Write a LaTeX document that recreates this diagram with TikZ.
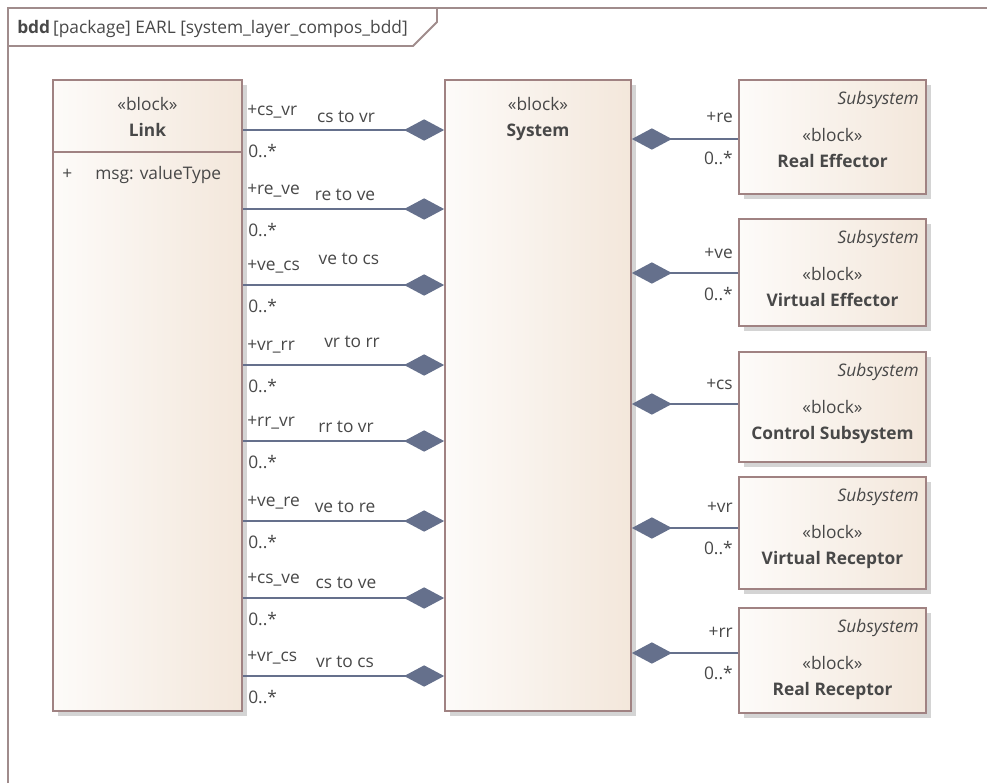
\documentclass[tikz,border=0pt]{standalone}
\usepackage{fontspec}
\setmainfont{Open Sans}
\usetikzlibrary{arrows.meta,shadows}
\definecolor{frameC}{RGB}{160,140,140}
\definecolor{blkL}{RGB}{253,251,249}
\definecolor{blkR}{RGB}{243,231,219}
\definecolor{blkD}{RGB}{160,130,130}
\definecolor{lineC}{RGB}{101,112,140}
\definecolor{txtC}{RGB}{72,72,72}
\tikzset{
  blockbox/.style={draw=blkD, line width=1.3pt, left color=blkL, right color=blkR,
    inner sep=0pt, drop shadow={shadow xshift=3.5pt, shadow yshift=-3.5pt, fill=black!17, opacity=1}},
  txt/.style={text=txtC, inner sep=0pt, yshift=-2.25pt, font=\fontsize{13}{15}\selectfont},
  btxt/.style={txt, font=\fontsize{13}{15}\selectfont\bfseries},
  itxt/.style={txt, font=\fontsize{13}{15}\selectfont\itshape},
  conn/.style={draw=lineC, line width=1.5pt, {Diamond[length=30pt,width=16pt,fill=lineC]}-},
}
\begin{document}
\begin{tikzpicture}[x=0.75pt,y=-0.75pt]
\useasboundingbox (0,0) rectangle (987,783);
% frame
\draw[frameC, line width=1.4pt] (8,783) -- (8,8) -- (987,8);
\draw[frameC, line width=1.4pt] (8,46) -- (413,46) -- (437,22) -- (437,8);
\node[txt, anchor=mid west] (hdr) at (17,27) {\textbf{bdd}\,[package] EARL [system\_layer\_compos\_bdd]};

% blocks
\node[blockbox, minimum width=189*0.75pt, minimum height=631*0.75pt] (link) at (147.5,395.5) {};
\node[blockbox, minimum width=186*0.75pt, minimum height=631*0.75pt] (sys) at (538,395.5) {};
\node[blockbox, minimum width=187*0.75pt, minimum height=114*0.75pt] (re) at (832.5,137) {};
\node[blockbox, minimum width=187*0.75pt, minimum height=107*0.75pt] (ve) at (832.5,272.5) {};
\node[blockbox, minimum width=187*0.75pt, minimum height=110*0.75pt] (cs) at (832.5,407) {};
\node[blockbox, minimum width=187*0.75pt, minimum height=112*0.75pt] (vr) at (832.5,533) {};
\node[blockbox, minimum width=187*0.75pt, minimum height=105*0.75pt] (rr) at (832.5,660.5) {};

% Link contents
\draw[blkD, line width=1.3pt] (link.west |- 0,152) -- (link.east |- 0,152);
\node[txt, anchor=mid] (linkst) at (147.5,104) {«block»};
\node[btxt, anchor=mid] (linkn) at (147.5,130) {Link};
\node[txt, anchor=mid west] (plus) at (62,173) {+};
\node[txt, anchor=mid west] (attr) at (95,173) {msg: valueType};

% System contents
\node[txt, anchor=mid] (sysst) at (538,104) {«block»};
\node[btxt, anchor=mid] (sysn) at (538,130) {System};

% Subsystems
\foreach \n/\nm/\ty in {re/Real Effector/80, ve/Virtual Effector/219, cs/Control Subsystem/352, vr/Virtual Receptor/477, rr/Real Receptor/608}{
  \node[itxt, anchor=mid east] (\n-k) at (919,\ty+18) {Subsystem};
  \node[txt, anchor=mid] (\n-st) at (832.5,\ty+55) {«block»};
  \node[btxt, anchor=mid] (\n-nm) at (832.5,\ty+81) {\nm};
}

% right connectors
\draw[conn] (sys.east |- 0,139) -- (re.west |- 0,139);
\draw[conn] (sys.east |- 0,273) -- (ve.west |- 0,273);
\draw[conn] (sys.east |- 0,404) -- (cs.west |- 0,404);
\draw[conn] (sys.east |- 0,528) -- (vr.west |- 0,528);
\draw[conn] (sys.east |- 0,653) -- (rr.west |- 0,653);
\node[txt, anchor=mid east] (rre) at (733,116) {+re};
\node[txt, anchor=mid east] (mre) at (733,158) {0..*};
\node[txt, anchor=mid east] (rve) at (733,252) {+ve};
\node[txt, anchor=mid east] (mve) at (733,294) {0..*};
\node[txt, anchor=mid east] (rcs) at (733,383) {+cs};
\node[txt, anchor=mid east] (rvr) at (733,506) {+vr};
\node[txt, anchor=mid east] (mvr) at (733,548) {0..*};
\node[txt, anchor=mid east] (rrr) at (733,631) {+rr};
\node[txt, anchor=mid east] (mrr) at (733,673) {0..*};

% left connectors
\foreach \k/\y/\role in {a/130/cs\_vr, b/209/re\_ve, c/285/ve\_cs, d/365/vr\_rr, e/441/rr\_vr, f/521/ve\_re, g/598/cs\_ve, h/676/vr\_cs}{
  \draw[conn] (sys.west |- 0,\y) -- (link.east |- 0,\y);
  \node[txt, anchor=mid west] (role-\k) at (247,\y-21) {+\role};
  \node[txt, anchor=mid west] (mult-\k) at (248,\y+21) {0..*};
}
\node[txt, anchor=mid] (l-a) at (346,116) {cs to vr};
\node[txt, anchor=mid] (l-b) at (345,194) {re to ve};
\node[txt, anchor=mid] (l-c) at (349,258) {ve to cs};
\node[txt, anchor=mid] (l-d) at (352,341) {vr to rr};
\node[txt, anchor=mid] (l-e) at (346,426) {rr to vr};
\node[txt, anchor=mid] (l-f) at (345,506) {ve to re};
\node[txt, anchor=mid] (l-g) at (346,582) {cs to ve};
\node[txt, anchor=mid] (l-h) at (345,661) {vr to cs};
\end{tikzpicture}
\end{document}
